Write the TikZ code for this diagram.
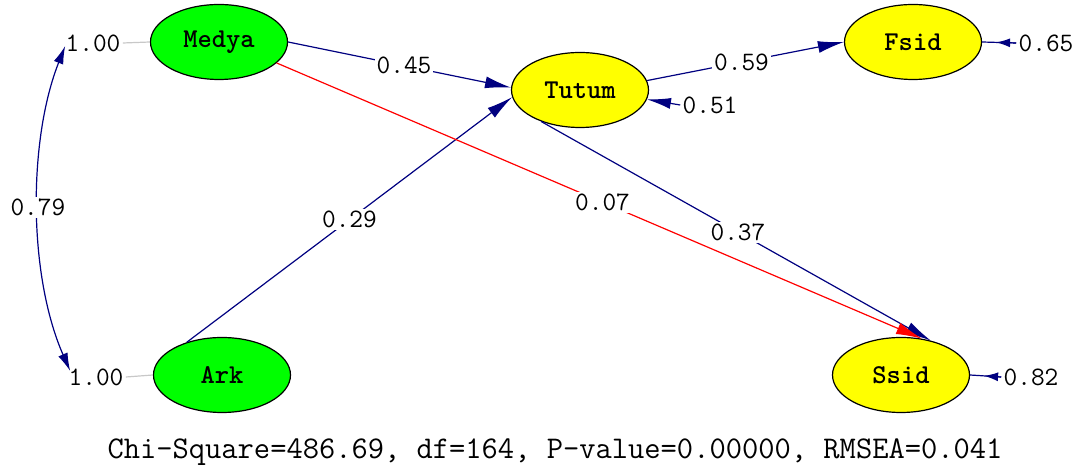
\documentclass[tikz,border=0pt]{standalone}
\usepackage{fontspec}
\usetikzlibrary{arrows.meta,shapes.geometric}
\definecolor{navy}{RGB}{0,0,128}
\definecolor{lgreen}{RGB}{0,255,0}
\definecolor{lyellow}{RGB}{255,255,0}
\definecolor{lred}{RGB}{255,0,0}
\definecolor{lgray}{RGB}{200,200,200}
\tikzset{
  latent/.style={ellipse,draw=black,line width=0.6pt,minimum width=68.5pt,minimum height=37.5pt,inner sep=0pt,font=\ttfamily\bfseries\fontsize{13.6}{14}\selectfont},
  exo/.style={latent,fill=lgreen},
  endo/.style={latent,fill=lyellow},
  num/.style={font=\ttfamily\fontsize{13.3}{14}\selectfont,inner sep=1pt,text=black},
  lbl/.style={num,fill=white},
  path/.style={draw=navy,line width=0.6pt,-{Latex[length=13pt,width=6pt]}},
  redpath/.style={draw=lred,line width=0.6pt,-{Latex[length=13pt,width=6pt]}},
  errpath/.style={draw=navy,line width=0.6pt,-{Latex[length=7pt,width=4.5pt]}},
}
\begin{document}
\begin{tikzpicture}[x=0.5pt,y=-0.5pt]
\useasboundingbox (0,0) rectangle (1080,474);
% latent variables
\node[exo]  (Medya) at (219,42)  {Medya};
\node[exo]  (Ark)   at (222,375) {Ark};
\node[endo] (Tutum) at (580,90)  {Tutum};
\node[endo] (Fsid)  at (913,42)  {Fsid};
\node[endo] (Ssid)  at (901,375) {Ssid};
% variances of exogenous
\node[num] (v1) at (93,43)  {1.00};
\node[num] (v2) at (96,377) {1.00};
\draw[lgray,line width=0.6pt] (v1.east) -- (Medya.west);
\draw[lgray,line width=0.6pt] (v2.east) -- (Ark.west);
% covariance
\draw[navy,line width=0.6pt,{Latex[length=9pt,width=5pt]}-{Latex[length=9pt,width=5pt]}]
  ([shift={(2,3)}]v1.west) .. controls (28,140) and (28,275) .. ([shift={(4,-6)}]v2.west)
  node[lbl,pos=0.5] {0.79};
% structural paths
\draw[path] (Medya.east) -- (Tutum.178) node[lbl,pos=0.52] {0.45};
\draw[path] (Ark.137) -- (Tutum.186) node[lbl,pos=0.5] {0.29};
\draw[path] (Tutum.8) -- (Fsid.west) node[lbl,pos=0.48] {0.59};
\draw[path] (Tutum.219) -- (Ssid.49) node[lbl,pos=0.505] {0.37};
\draw[redpath] (Medya.340) -- (Ssid.60) node[lbl,pos=0.505] {0.07};
% error variances
\node[num] (e1) at (710,105)  {0.51};
\node[num] (e2) at (1046,43)  {0.65};
\node[num] (e3) at (1031,377) {0.82};
\draw[draw=navy,line width=0.6pt,-{Latex[length=12pt,width=5.5pt]}] (e1.west) -- (Tutum.-8);
\draw[navy,line width=0.6pt] (e2.west) -- (Fsid.east);
\draw[errpath,shorten >=7pt] (e2.west) -- (Fsid.east);
\draw[navy,line width=0.6pt] (e3.west) -- (Ssid.east);
\draw[errpath,shorten >=7pt] (e3.west) -- (Ssid.east);
% fit statistics
\node[font=\ttfamily\fontsize{15.8}{17}\selectfont,inner sep=0pt] (fit) at (555,452)
  {Chi-Square=486.69, df=164, P-value=0.00000, RMSEA=0.041};
\end{tikzpicture}
\end{document}
